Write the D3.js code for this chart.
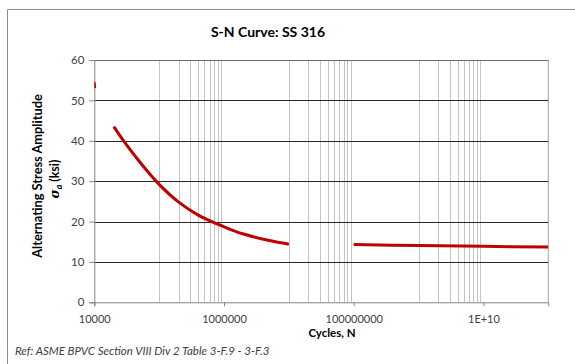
<!DOCTYPE html>
<html><head><meta charset="utf-8">
<script src="https://cdn.jsdelivr.net/npm/d3@7"></script>
<style>
html,body{margin:0;padding:0;background:#fff;}
svg{display:block;}
text{font-family:Lato,"Open Sans",sans-serif;}
</style></head>
<body>
<svg id="chart" width="575" height="364"></svg>
<script>
// ---- data ----
const title = "S-N Curve: SS 316";
const xTitle = "Cycles, N";
const yTitle1 = "Alternating Stress Amplitude";
const refText = "Ref: ASME BPVC Section VIII Div 2 Table 3-F.9 - 3-F.3";
const xMajorTicks = [1e4, 1e6, 1e8, 1e10];
const xTickLabels = ["10000", "1000000", "100000000", "1E+10"];
const yTicks = [0, 10, 20, 30, 40, 50, 60];
const minorMultipliers = [10, 20, 30, 40, 50, 60, 70, 80, 90];
// series (cycles N, stress amplitude ksi)
const seriesLowN = [9900, 10150];
const seriesLowS = [54.6, 53.0];
const seriesMidN = [2e4, 3e4, 5e4, 1e5, 2e5, 4e5, 1e6, 2e6, 5e6, 1e7];
const seriesMidS = [43.5, 39.4, 34.8, 29.2, 24.8, 21.6, 18.7, 16.9, 15.3, 14.4];
const seriesHighN = [1e8, 1e9, 1e10, 1e11];
const seriesHighS = [14.3, 14.05, 13.85, 13.7];

// ---- layout ----
const svg = d3.select("#chart");
const L = 94.3, R = 548.3, T = 60, B = 302.3;
const x = d3.scaleLog().domain([1e4, 1e11]).range([L, R]);
const y = d3.scaleLinear().domain([0, 60]).range([B, T]);

// outer chart border
svg.append("path").attr("d", `M7.5,364 V9.5 H576`).attr("fill", "none").attr("stroke", "#8c8c8c").attr("stroke-width", 1);

svg.append("defs").append("clipPath").attr("id", "clip")
  .append("rect").attr("x", L).attr("y", T - 2).attr("width", R - L).attr("height", B - T + 2);

// minor vertical gridlines
const minorVals = [];
xMajorTicks.forEach(b => minorMultipliers.forEach(m => { const v = b * m; if (v < 1e11) minorVals.push(v); }));
svg.append("g").selectAll("line").data(minorVals).join("line")
  .attr("x1", d => Math.round(x(d)) + 0.5).attr("x2", d => Math.round(x(d)) + 0.5)
  .attr("y1", T).attr("y2", B)
  .attr("stroke", "#c4c4c4").attr("stroke-width", 1);

// right border of plot
svg.append("line").attr("x1", R).attr("x2", R).attr("y1", T).attr("y2", B)
  .attr("stroke", "#a6a6a6").attr("stroke-width", 1);

// horizontal gridlines
svg.append("g").selectAll("line").data(yTicks.filter(d => d > 0)).join("line")
  .attr("x1", L).attr("x2", R)
  .attr("y1", d => Math.round(y(d)) + 0.5).attr("y2", d => Math.round(y(d)) + 0.5)
  .attr("stroke", d => d === 60 ? "#6e6e6e" : "#262626").attr("stroke-width", 1);

// y axis
const yAxis = d3.axisLeft(y).tickValues(yTicks).tickSize(5).tickPadding(5).tickFormat(d3.format("d"));
const gy = svg.append("g").attr("transform", `translate(${L},0)`).call(yAxis);
gy.select(".domain").attr("stroke", "#868686");
gy.selectAll(".tick line").attr("stroke", "#868686");
gy.selectAll(".tick text").attr("fill", "#404040").style("font-size", "11.5px");

// x axis
const xAxis = d3.axisBottom(x).tickValues(xMajorTicks).tickSize(4).tickPadding(9)
  .tickFormat((d, i) => xTickLabels[i]);
const gx = svg.append("g").attr("transform", `translate(0,${B})`).call(xAxis);
gx.select(".domain").attr("stroke", "#868686");
gx.selectAll(".tick line").attr("stroke", "#868686");
gx.selectAll(".tick text").attr("fill", "#404040").style("font-size", "11px");

// series
const line = d3.line().x(d => x(d[0])).y(d => y(d[1])).curve(d3.curveCatmullRom.alpha(0.5));
const plotG = svg.append("g").attr("clip-path", "url(#clip)");
[[seriesLowN, seriesLowS], [seriesMidN, seriesMidS], [seriesHighN, seriesHighS]].forEach(([ns, ss]) => {
  plotG.append("path").datum(ns.map((n, i) => [n, ss[i]]))
    .attr("d", line).attr("fill", "none").attr("stroke", "#c00000")
    .attr("stroke-width", 3).attr("stroke-linecap", "butt").attr("stroke-linejoin", "round");
});

// titles
svg.append("text").attr("x", 268).attr("y", 37).attr("text-anchor", "middle")
  .style("font-size", "14px").style("font-weight", "bold").attr("fill", "#000").text(title);
svg.append("text").attr("x", 332).attr("y", 337).attr("text-anchor", "middle")
  .style("font-size", "11.5px").style("font-weight", "bold").attr("fill", "#000").text(xTitle);
svg.append("text").attr("transform", "translate(42,176) rotate(-90)").attr("text-anchor", "middle")
  .style("font-size", "12.8px").style("font-weight", "bold").attr("fill", "#000").text(yTitle1);
const t2 = svg.append("text").attr("transform", "translate(59,179) rotate(-90)").attr("text-anchor", "middle")
  .style("font-size", "12.5px").style("font-weight", "bold").attr("fill", "#000");
t2.append("tspan").style("font-style", "italic").style("font-family", "'DejaVu Serif',serif").text("σ");
t2.append("tspan").attr("dy", 3).style("font-size", "8.5px").style("font-style", "italic").text("a");
t2.append("tspan").attr("dy", -3).text(" (ksi)");
svg.append("text").attr("x", 15).attr("y", 355)
  .style("font-size", "11.5px").style("font-style", "italic").attr("fill", "#404040").text(refText);
</script>
</body></html>
